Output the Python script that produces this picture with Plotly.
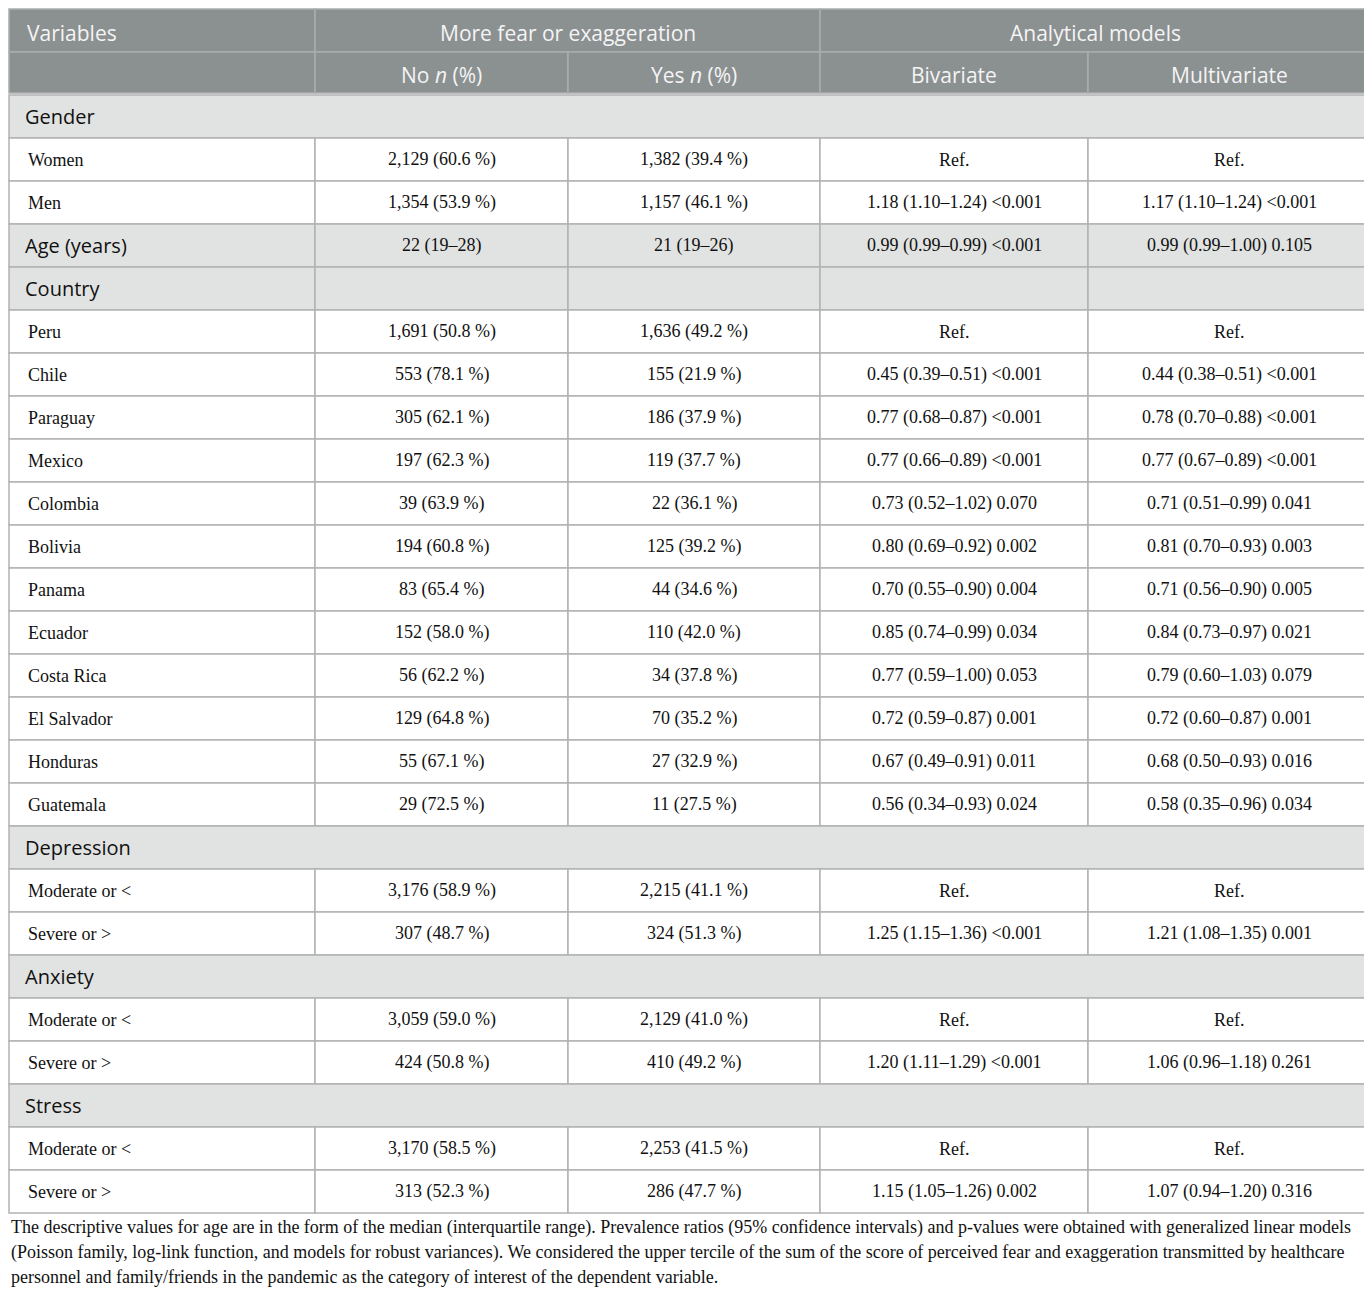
import plotly.graph_objects as go

# 표 데이터
header_top = ["Variables", "More fear or exaggeration", "Analytical models"]
header_sub = ["", "No <i>n</i> (%)", "Yes <i>n</i> (%)", "Bivariate", "Multivariate"]

# 행 종류: 'sec' = 전체 폭 구분 행, 'secc' = 칸이 나뉜 회색 행, 'row' = 일반 행
row_kind = ["sec", "row", "row", "secc", "secc",
            "row", "row", "row", "row", "row", "row", "row", "row", "row", "row", "row", "row",
            "sec", "row", "row", "sec", "row", "row", "sec", "row", "row"]
row_label = ["Gender", "Women", "Men", "Age (years)", "Country",
             "Peru", "Chile", "Paraguay", "Mexico", "Colombia", "Bolivia", "Panama", "Ecuador",
             "Costa Rica", "El Salvador", "Honduras", "Guatemala",
             "Depression", "Moderate or <", "Severe or >",
             "Anxiety", "Moderate or <", "Severe or >",
             "Stress", "Moderate or <", "Severe or >"]
no_n = ["", "2,129 (60.6 %)", "1,354 (53.9 %)", "22 (19–28)", "",
        "1,691 (50.8 %)", "553 (78.1 %)", "305 (62.1 %)", "197 (62.3 %)", "39 (63.9 %)",
        "194 (60.8 %)", "83 (65.4 %)", "152 (58.0 %)", "56 (62.2 %)", "129 (64.8 %)",
        "55 (67.1 %)", "29 (72.5 %)",
        "", "3,176 (58.9 %)", "307 (48.7 %)",
        "", "3,059 (59.0 %)", "424 (50.8 %)",
        "", "3,170 (58.5 %)", "313 (52.3 %)"]
yes_n = ["", "1,382 (39.4 %)", "1,157 (46.1 %)", "21 (19–26)", "",
         "1,636 (49.2 %)", "155 (21.9 %)", "186 (37.9 %)", "119 (37.7 %)", "22 (36.1 %)",
         "125 (39.2 %)", "44 (34.6 %)", "110 (42.0 %)", "34 (37.8 %)", "70 (35.2 %)",
         "27 (32.9 %)", "11 (27.5 %)",
         "", "2,215 (41.1 %)", "324 (51.3 %)",
         "", "2,129 (41.0 %)", "410 (49.2 %)",
         "", "2,253 (41.5 %)", "286 (47.7 %)"]
bivariate = ["", "Ref.", "1.18 (1.10–1.24) &lt;0.001", "0.99 (0.99–0.99) &lt;0.001", "",
             "Ref.", "0.45 (0.39–0.51) &lt;0.001", "0.77 (0.68–0.87) &lt;0.001",
             "0.77 (0.66–0.89) &lt;0.001", "0.73 (0.52–1.02) 0.070", "0.80 (0.69–0.92) 0.002",
             "0.70 (0.55–0.90) 0.004", "0.85 (0.74–0.99) 0.034", "0.77 (0.59–1.00) 0.053",
             "0.72 (0.59–0.87) 0.001", "0.67 (0.49–0.91) 0.011", "0.56 (0.34–0.93) 0.024",
             "", "Ref.", "1.25 (1.15–1.36) &lt;0.001",
             "", "Ref.", "1.20 (1.11–1.29) &lt;0.001",
             "", "Ref.", "1.15 (1.05–1.26) 0.002"]
multivariate = ["", "Ref.", "1.17 (1.10–1.24) &lt;0.001", "0.99 (0.99–1.00) 0.105", "",
                "Ref.", "0.44 (0.38–0.51) &lt;0.001", "0.78 (0.70–0.88) &lt;0.001",
                "0.77 (0.67–0.89) &lt;0.001", "0.71 (0.51–0.99) 0.041", "0.81 (0.70–0.93) 0.003",
                "0.71 (0.56–0.90) 0.005", "0.84 (0.73–0.97) 0.021", "0.79 (0.60–1.03) 0.079",
                "0.72 (0.60–0.87) 0.001", "0.68 (0.50–0.93) 0.016", "0.58 (0.35–0.96) 0.034",
                "", "Ref.", "1.21 (1.08–1.35) 0.001",
                "", "Ref.", "1.06 (0.96–1.18) 0.261",
                "", "Ref.", "1.07 (0.94–1.20) 0.316"]

footnote = [
    "The descriptive values for age are in the form of the median (interquartile range). Prevalence ratios (95% confidence intervals) and p-values were obtained with generalized linear models",
    "(Poisson family, log-link function, and models for robust variances). We considered the upper tercile of the sum of the score of perceived fear and exaggeration transmitted by healthcare",
    "personnel and family/friends in the pandemic as the category of interest of the dependent variable.",
]

# 배치 (픽셀 좌표) - 페이지 body 여백(8px) 때문에 조금 당겨서 그림
W, H = 1364, 1282
X0, Y0 = 3, 3
col_x = [4, 310, 563, 815, 1083, 1366]
top = 4
row_h = 43.0

HEAD_FILL = "#8b9091"
HEAD_LINE = "#a9adae"
SEC_FILL = "#e1e3e2"
BODY_LINE = "#b3b3b3"
SANS = "Open Sans"
SERIF = "Liberation Serif"

fig = go.Figure()
shapes = []
annotations = []


def cell(x0, x1, y0, y1, fill, line):
    shapes.append(dict(type="rect", xref="x", yref="y", x0=x0, x1=x1, y0=y0, y1=y1,
                       fillcolor=fill, line=dict(color=line, width=1.5), layer="below"))


def text(x, y, s, font, size, color, align="center"):
    annotations.append(dict(x=x, y=y, xref="x", yref="y", text=s, showarrow=False,
                            xanchor=align, yanchor="middle",
                            font=dict(family=font, size=size, color=color)))


# 머리글 1행
y0, y1 = top, top + row_h
cell(col_x[0], col_x[1], y0, y1, HEAD_FILL, HEAD_LINE)
cell(col_x[1], col_x[3], y0, y1, HEAD_FILL, HEAD_LINE)
cell(col_x[3], col_x[5], y0, y1, HEAD_FILL, HEAD_LINE)
text(col_x[0] + 16, (y0 + y1) / 2 + 2, header_top[0], SANS, 21, "#f4f4f4", "left")
text((col_x[1] + col_x[3]) / 2, (y0 + y1) / 2 + 2, header_top[1], SANS, 21, "#f4f4f4")
text((col_x[3] + col_x[5]) / 2, (y0 + y1) / 2 + 2, header_top[2], SANS, 21, "#f4f4f4")

# 머리글 2행
y0, y1 = top + row_h, top + 2 * row_h - 2
for c in range(5):
    cell(col_x[c], col_x[c + 1], y0, y1, HEAD_FILL, HEAD_LINE)
    if header_sub[c]:
        text((col_x[c] + col_x[c + 1]) / 2, (y0 + y1) / 2 + 2, header_sub[c], SANS, 21, "#f4f4f4")

# 본문
for i, kind in enumerate(row_kind):
    y0 = top + (i + 2) * row_h
    y1 = y0 + row_h
    yc = (y0 + y1) / 2
    if kind == "sec":
        cell(col_x[0], col_x[5], y0, y1, SEC_FILL, BODY_LINE)
        text(col_x[0] + 14, yc, row_label[i], SANS, 20, "#111111", "left")
        continue
    fill = SEC_FILL if kind == "secc" else "white"
    for c in range(5):
        cell(col_x[c], col_x[c + 1], y0, y1, fill, BODY_LINE)
    if kind == "secc":
        text(col_x[0] + 14, yc, row_label[i], SANS, 20, "#111111", "left")
    else:
        text(col_x[0] + 17, yc, row_label[i], SERIF, 18, "#111111", "left")
    vals = [no_n[i], yes_n[i], bivariate[i], multivariate[i]]
    for c, v in enumerate(vals):
        if v:
            text((col_x[c + 1] + col_x[c + 2]) / 2, yc, v, SERIF, 18, "#111111")

# 각주
foot_y = top + (len(row_kind) + 2) * row_h + 14
for k, line in enumerate(footnote):
    text(col_x[0], foot_y + k * 25, line, SERIF, 18, "#111111", "left")

fig.add_trace(go.Scatter(x=[X0, X0 + W], y=[Y0, Y0 + H], mode="markers",
                         marker=dict(opacity=0), hoverinfo="skip", showlegend=False))

fig.update_layout(
    width=W, height=H,
    margin=dict(l=0, r=0, t=0, b=0),
    paper_bgcolor="white", plot_bgcolor="white",
    xaxis=dict(range=[X0, X0 + W], visible=False, fixedrange=True),
    yaxis=dict(range=[Y0 + H, Y0], visible=False, fixedrange=True),
    shapes=shapes, annotations=annotations,
)

fig.write_html("out.html")
